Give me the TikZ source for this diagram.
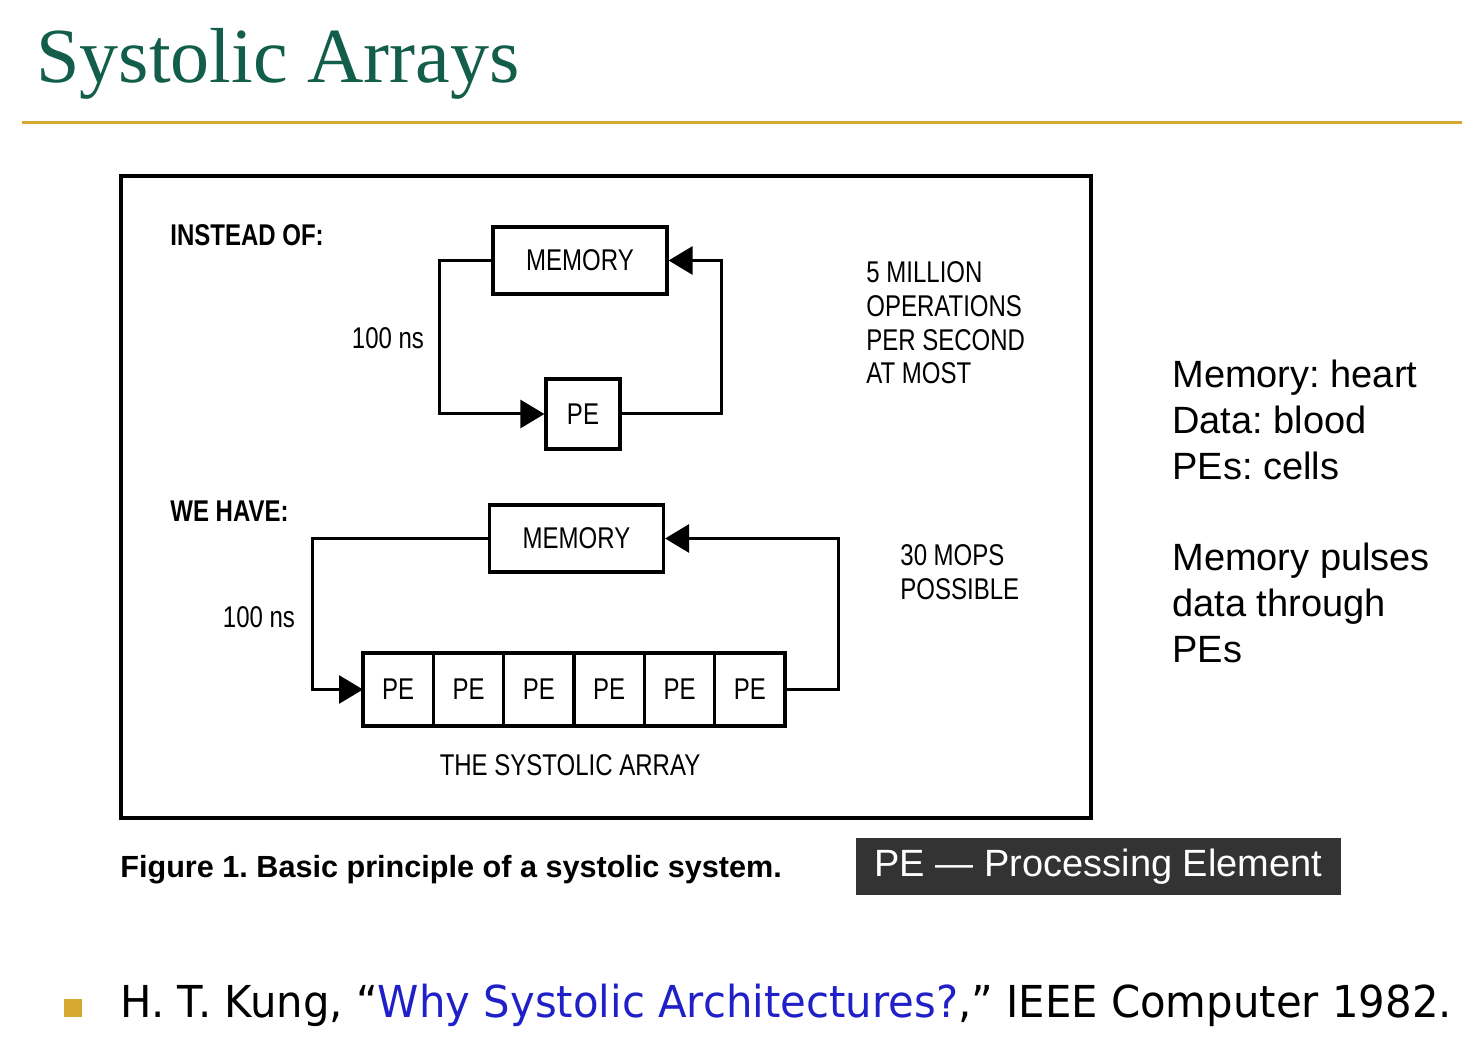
\documentclass[tikz,border=0pt]{standalone}
\usepackage{fontspec}
\setmainfont{Liberation Sans}
\newfontfamily\titlefont{Liberation Serif}
\newfontfamily\figfont{Liberation Sans}[FakeStretch=0.8]
\newfontfamily\reffont{DejaVu Sans}[FakeStretch=0.95]
\usetikzlibrary{arrows.meta, positioning}
\definecolor{titlegreen}{RGB}{18,94,74}
\definecolor{rulegold}{RGB}{214,168,48}
\definecolor{boxgray}{RGB}{51,51,51}
\definecolor{linkblue}{RGB}{32,32,200}
\frenchspacing

\begin{document}
\begin{tikzpicture}[x=0.5pt,y=-0.5pt,align=center,node distance=0pt]
\tikzstyle{unit}=[rectangle,draw=black,line width=1.6pt,inner sep=0pt,font=\figfont\fontsize{15}{18}\selectfont]
\tikzstyle{mem}=[unit,minimum width=87pt,minimum height=33.5pt]
\tikzstyle{single}=[unit,minimum width=37pt,minimum height=35pt]
\tikzstyle{cell}=[unit,outer sep=0pt,minimum width=35.17pt,minimum height=36.5pt]
\tikzstyle{flow}=[-{Triangle[length=12pt,width=14pt]},line width=1.5pt]
\tikzstyle{caps}=[inner sep=0pt,font=\figfont\fontsize{15}{16.8}\selectfont]
\tikzstyle{head}=[inner sep=0pt,anchor=west,font=\figfont\bfseries\fontsize{15}{18}\selectfont]
\tikzstyle{note}=[inner sep=0pt,anchor=west,align=left,font=\fontsize{19}{23}\selectfont]

\fill[white] (0,0) rectangle (1478,1042);
\useasboundingbox (0,0) rectangle (1478,1042);

% title and rule
\node[anchor=base west,inner sep=0pt,text=titlegreen,font=\titlefont\fontsize{39}{44}\selectfont] (title) at (36,83) {Systolic Arrays};
\draw[rulegold,line width=1.5pt] (22,123) -- (1462,123);

% figure frame
\draw[line width=1.6pt] (121,176) rectangle (1091,818);

% instead of
\node[head] (instead) at (170,235) {INSTEAD OF:};
\node[mem] (mem1) at (580,260.5) {MEMORY};
\node[single] (pe0) at (583,414) {PE};
\node[caps] (t1) at (388,338) {100 ns};
\node[caps,anchor=west,align=left] (rate1) at (866,323) {5 MILLION\\OPERATIONS\\PER SECOND\\AT MOST};
\draw[flow] (mem1.west) -- ++(-52,0) |- (pe0.west);
\draw[flow] (pe0.east) -- ++(100,0) |- (mem1.east);

% we have
\node[head] (wehave) at (170,511) {WE HAVE:};
\node[mem] (mem2) at (576.5,538.5) {MEMORY};
\node[cell,anchor=west] (c1) at (363,689.5) {PE};
\node[cell,right=of c1] (c2) {PE};
\node[cell,right=of c2] (c3) {PE};
\node[cell,right=of c3] (c4) {PE};
\node[cell,right=of c4] (c5) {PE};
\node[cell,right=of c5] (c6) {PE};
\node[caps] (t2) at (259,617) {100 ns};
\node[caps,anchor=west,align=left] (rate2) at (900,572) {30 MOPS\\POSSIBLE};
\node[caps] (array) at (570,765) {THE SYSTOLIC ARRAY};
\draw[flow] (mem2.west) -- ++(-175,0) |- (c1.west);
\draw[flow] (c6.east) -- ++(53,0) |- (mem2.east);

% captions
\node[anchor=west,inner sep=0pt,font=\bfseries\fontsize{15.3}{18}\selectfont] (fig) at (120,870) {Figure 1. Basic principle of a systolic system.};
\node[fill=boxgray,text=white,minimum width=242.5pt,minimum height=28.5pt,inner sep=0pt,font=\fontsize{19}{22}\selectfont] (legend) at (1098.5,866.5) {PE — Processing Element};

\node[note] (note1) at (1172,420) {Memory: heart\\Data: blood\\PEs: cells};
\node[note] (note2) at (1172,603) {Memory pulses\\data through\\PEs};

% reference
\node[fill=rulegold,minimum size=9pt,inner sep=0pt] (dot) at (73,1007.5) {};
\node[anchor=west,inner sep=0pt,font=\reffont\fontsize{22}{26}\selectfont] (ref) at (120,1005) {H. T. Kung, “\textcolor{linkblue}{Why Systolic Architectures?},” IEEE Computer 1982.};
\end{tikzpicture}
\end{document}
